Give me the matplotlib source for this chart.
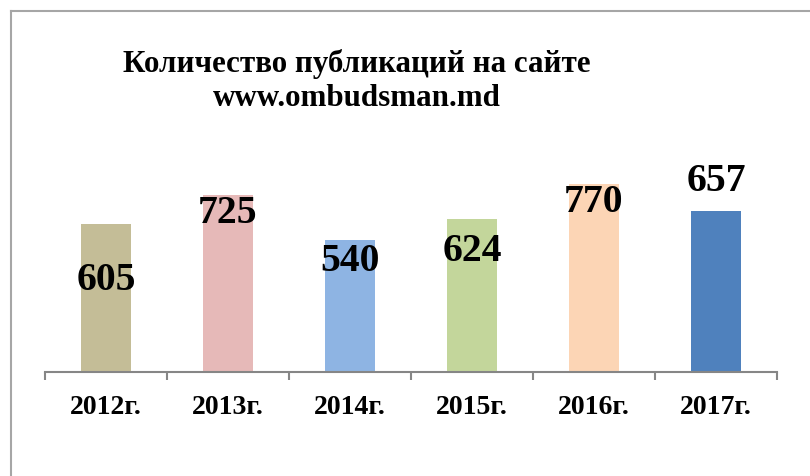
import matplotlib
matplotlib.use("Agg")
import matplotlib.pyplot as plt
from matplotlib.lines import Line2D

categories = ["2012г.", "2013г.", "2014г.", "2015г.", "2016г.", "2017г."]
values = [605, 725, 540, 624, 770, 657]
colors = ["#C4BD97", "#E6B9B8", "#8EB4E3", "#C3D69B", "#FCD5B5", "#4F81BD"]
# vertical offset of each value label relative to bar top (data units)
label_offsets = [-225, -71, -82, -125, -71, 128]
title = "Количество публикаций на сайте\nwww.ombudsman.md"

W, H = 810, 477
fig = plt.figure(figsize=(W / 100, H / 100), dpi=100)
plt.rcParams['font.family'] = ['Liberation Serif', 'DejaVu Serif']

x0, x1 = 45, 777
ybase = 373
ytop = 153
ax = fig.add_axes([x0 / W, 1 - ybase / H, (x1 - x0) / W, (ybase - ytop) / H])

xs = list(range(len(values)))
ax.bar(xs, values, width=0.41, color=colors, zorder=2)
ax.set_xlim(-0.5, len(values) - 0.5)
ax.set_ylim(0, 900)

for x, v, off in zip(xs, values, label_offsets):
    ax.text(x, v + off, str(v), ha='center', va='center', fontsize=28.5,
            fontweight='bold', color='black', zorder=3)

for s in ['top', 'right', 'left']:
    ax.spines[s].set_visible(False)
ax.spines['bottom'].set_color('#868686')
ax.spines['bottom'].set_linewidth(1.5)
ax.set_yticks([])
ax.set_xticks([i - 0.5 for i in range(len(values) + 1)], minor=False)
ax.set_xticklabels([''] * (len(values) + 1))
ax.tick_params(axis='x', which='major', length=6, width=1.5, color='#868686', direction='out')
ax.set_xticks(xs, minor=True)
ax.set_xticklabels(categories, minor=True, fontsize=20, fontweight='bold')
ax.tick_params(axis='x', which='minor', length=0, pad=16)

fig.text(357 / W, 1 - 81 / H, title, ha='center', va='center', fontsize=22.3,
         fontweight='bold', linespacing=1.2)

# outer frame lines (left and top)
fig.add_artist(Line2D([11 / W, 11 / W], [0, 1 - 12 / H], transform=fig.transFigure,
                      color='#A6A6A6', lw=1.5))
fig.add_artist(Line2D([11 / W, 1], [1 - 12 / H, 1 - 12 / H], transform=fig.transFigure,
                      color='#A6A6A6', lw=1.5))

fig.savefig("out.png", dpi=100, facecolor='white')
